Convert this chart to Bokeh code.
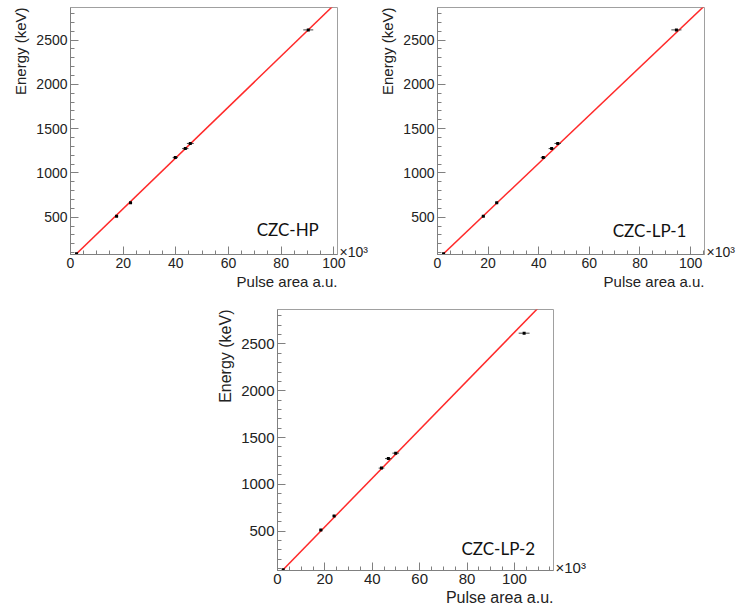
from bokeh.plotting import figure
from bokeh.models import (Range1d, FixedTicker, Label, Spacer, ColumnDataSource,
                          Title, LinearAxis)
from bokeh.layouts import column, row
from bokeh.embed import file_html
from bokeh.resources import INLINE
import numpy as np

# ---- data ----
energy_kev = [88, 511, 662, 1173, 1275, 1333, 2615]

hp_area = [2.3, 17.5, 22.8, 39.8, 43.6, 45.5, 90.3]      # x10^3
hp_err = [0.4, 0.6, 0.6, 1.0, 1.2, 1.3, 1.9]
lp1_area = [2.4, 18.1, 23.4, 41.8, 45.1, 47.5, 94.4]
lp1_err = [0.4, 0.6, 0.6, 1.0, 1.2, 1.3, 2.0]
lp2_area = [2.4, 18.3, 23.9, 43.9, 46.8, 49.9, 104.1]
lp2_err = [0.4, 0.7, 0.7, 1.2, 1.4, 1.4, 2.3]

# linear calibration fits (slope keV per 10^3 a.u., intercept keV)
hp_fit = [28.72, 22.0]
lp1_fit = [27.15, 23.0]
lp2_fit = [25.98, 26.0]

panel_names = ["CZC-HP", "CZC-LP-1", "CZC-LP-2"]
x_major_ticks = [0, 20, 40, 60, 80, 100]
y_major_ticks = [500, 1000, 1500, 2000, 2500]
x_title = "Pulse area a.u."
y_title = "Energy (keV)"
x_multiplier = "×10³"

FONT = "Liberation Sans"
AX_COL = "#808080"
YMIN, YMAX = 79, 2868


def make_panel(area, err, fit, name, xmax, width, height, bl, br, bt, bb,
               lab_x, lab_y, fs_tick=14, fs_title=15):
    p = figure(width=width, height=height, output_backend="svg",
               toolbar_location=None,
               x_range=Range1d(0, xmax), y_range=Range1d(YMIN, YMAX),
               min_border_left=bl, min_border_right=br,
               min_border_top=bt, min_border_bottom=bb)
    p.background_fill_color = "white"
    p.border_fill_color = "white"
    p.outline_line_color = "#a0a0a0"
    p.outline_line_width = 1
    p.xgrid.visible = False
    p.ygrid.visible = False

    p.xaxis.ticker = FixedTicker(ticks=x_major_ticks,
                                 minor_ticks=list(range(0, 121, 5)))
    p.yaxis.ticker = FixedTicker(ticks=y_major_ticks,
                                 minor_ticks=list(range(100, 2900, 100)))
    for ax in (p.xaxis, p.yaxis):
        ax.axis_line_color = AX_COL
        ax.major_tick_line_color = AX_COL
        ax.minor_tick_line_color = AX_COL
        ax.major_tick_in = 8
        ax.major_tick_out = 0
        ax.minor_tick_in = 4
        ax.minor_tick_out = 0
        ax.major_label_text_font = FONT
        ax.major_label_text_font_size = f"{fs_tick}px"
        ax.major_label_text_color = "#222222"
        ax.major_label_standoff = 3

    # axis titles aligned to the axis end, ROOT style
    p.add_layout(Title(text=y_title, align="right", text_font=FONT,
                       text_font_size=f"{fs_title}px",
                       text_font_style="normal", text_color="#222222",
                       standoff=10, offset=0), "left")
    p.add_layout(Title(text=x_title, align="right", text_font=FONT,
                       text_font_size=f"{fs_title}px",
                       text_font_style="normal", text_color="#222222",
                       standoff=0, offset=0), "below")

    # "x10^3" multiplier to the right of the x axis end
    mult = LinearAxis(ticker=FixedTicker(ticks=[YMIN + 30]),
                      major_label_overrides={YMIN + 30: x_multiplier},
                      axis_line_color=None, major_tick_line_color=None,
                      minor_tick_line_color=None, major_tick_in=0,
                      major_tick_out=0, major_label_standoff=2,
                      major_label_text_font=FONT,
                      major_label_text_font_size=f"{fs_tick}px",
                      major_label_text_color="#222222")
    p.add_layout(mult, "right")

    # fit line
    slope, icpt = fit
    xl = np.array([0.0, xmax])
    p.line(xl, slope * xl + icpt, line_color="#ff2a2a", line_width=1.5)

    # data with horizontal error bars
    src = ColumnDataSource(dict(
        x=area, y=energy_kev,
        x0=[a - e for a, e in zip(area, err)],
        x1=[a + e for a, e in zip(area, err)]))
    p.segment(x0="x0", y0="y", x1="x1", y1="y", source=src,
              line_color="#444444", line_width=1)
    p.scatter(x="x", y="y", source=src, marker="square", size=3,
              fill_color="black", line_color=None)

    p.add_layout(Label(x=lab_x, y=lab_y, text=name, text_font="Lato",
                       text_font_size="17px", text_color="#111111",
                       text_align="center", text_baseline="middle"))
    return p


p1 = make_panel(hp_area, hp_err, hp_fit, panel_names[0], 101.4,
                371, 300, 70, 34, 7, 42, 82.5, 360)
p2 = make_panel(lp1_area, lp1_err, lp1_fit, panel_names[1], 105.5,
                366, 300, 66, 32, 7, 46, 83.8, 352)
p3 = make_panel(lp2_area, lp2_err, lp2_fit, panel_names[2], 116.5,
                393, 314, 77, 40, 9, 44, 93.2, 311, fs_tick=15, fs_title=16)

layout = column(row(p1, p2), row(Spacer(width=200, height=314), p3))
open("out.html", "w").write(file_html(layout, INLINE))
